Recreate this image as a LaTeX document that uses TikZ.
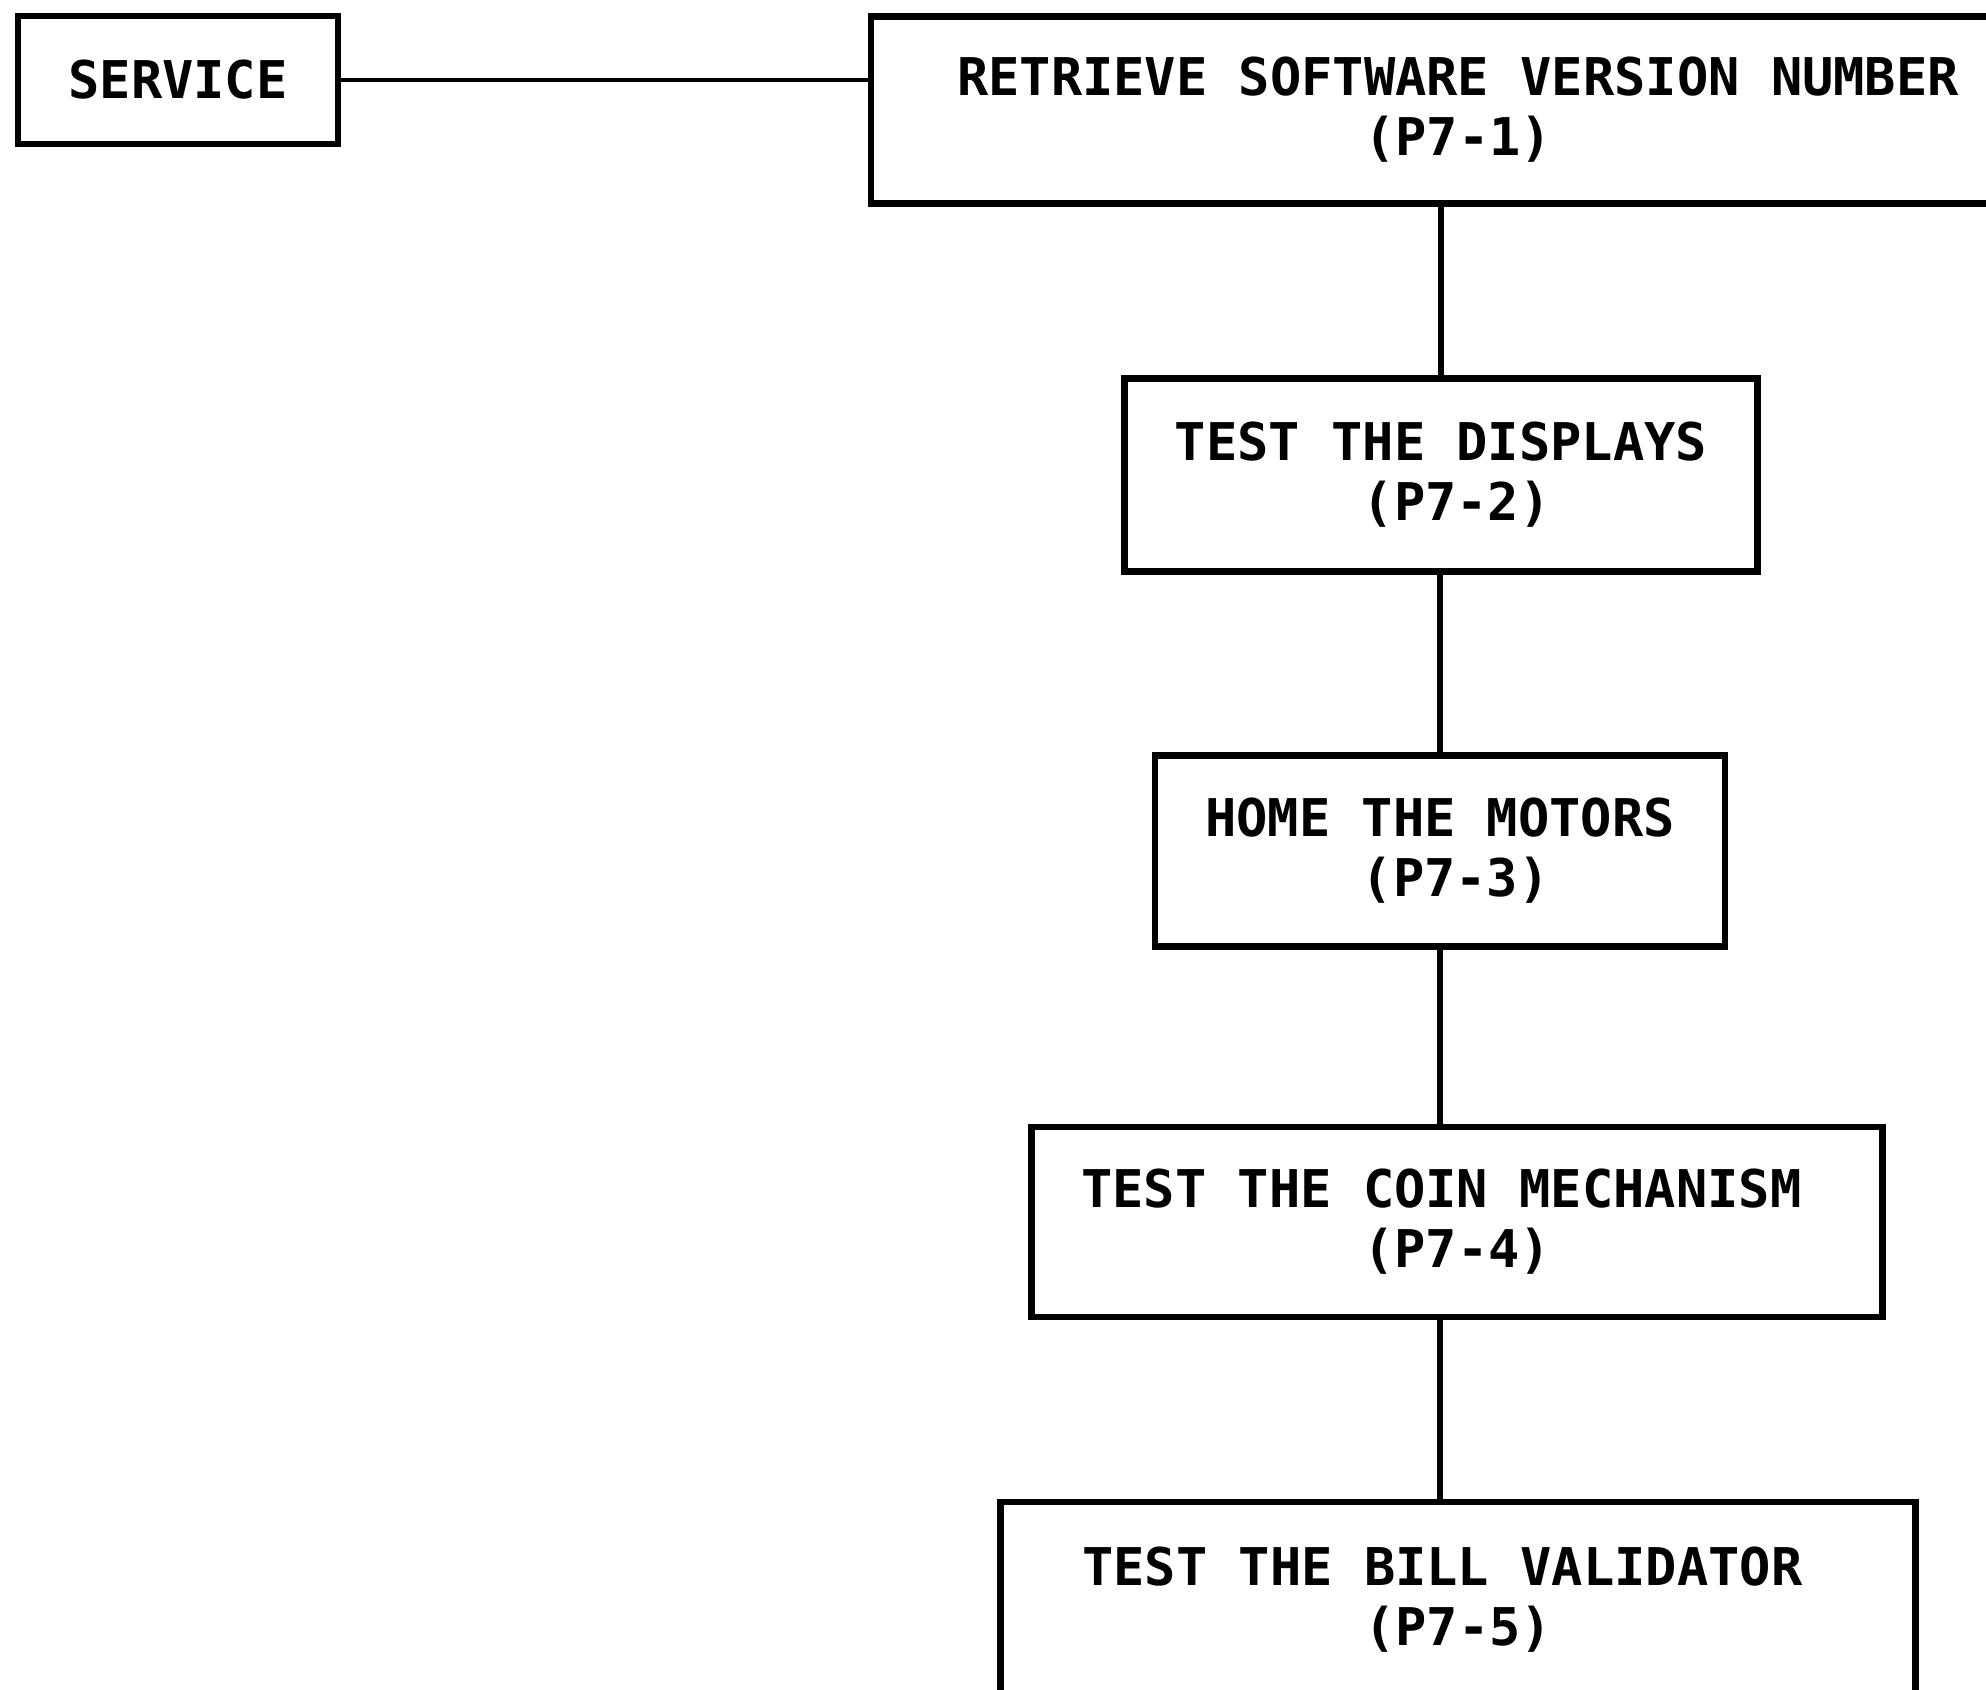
\documentclass[tikz,border=0pt]{standalone}
\usepackage{fontspec}
\setmonofont{DejaVu Sans Mono}
\usetikzlibrary{positioning}

\begin{document}
\begin{tikzpicture}[x=0.5pt, y=-0.5pt,
    stepbox/.style = {draw, line width=3.25pt, rectangle, inner sep=0pt, align=center,
        font=\ttfamily\bfseries\fontsize{26}{30}\selectfont},
    link/.style = {line width=3pt},
    thinlink/.style = {line width=1.75pt}]

    % page
    \useasboundingbox (0,0) rectangle (1986,1690);
    \clip (0,0) rectangle (1986,1690);

    % boxes
    \node[stepbox, minimum width=160pt, minimum height=64pt] (service) at (178,80) {SERVICE};
    \node[stepbox, minimum width=587pt, minimum height=93.5pt] (retrieve) at (1458,110) {RETRIEVE SOFTWARE VERSION NUMBER\\(P7-1)};
    \node[stepbox, minimum width=316.5pt, minimum height=96.5pt] (displays) at (1441,475) {TEST THE DISPLAYS\\\hphantom{0}(P7-2)};
    \node[stepbox, minimum width=285pt, minimum height=95.5pt] (motors) at (1440,851) {HOME THE MOTORS\\\hphantom{0}(P7-3)};
    \node[stepbox, minimum width=425.5pt, minimum height=95pt] (coin) at (1457,1222) {TEST THE COIN MECHANISM\hphantom{0}\\(P7-4)};
    \node[stepbox, minimum width=457.5pt, minimum height=98pt] (bill) at (1458,1600) {TEST THE BILL VALIDATOR\hphantom{0}\\(P7-5)};

    % connectors
    \draw[thinlink] (service.east) -- (service.east -| retrieve.west);
    \draw[link] (displays.north |- retrieve.south) -- (displays.north);
    \draw[link] (displays.south) -- (displays.south -| motors.north) -- (motors.north);
    \draw[link] (motors.south) -- (motors.south |- coin.north);
    \draw[link] (motors.south |- coin.south) -- (motors.south |- bill.north);

\end{tikzpicture}
\end{document}
